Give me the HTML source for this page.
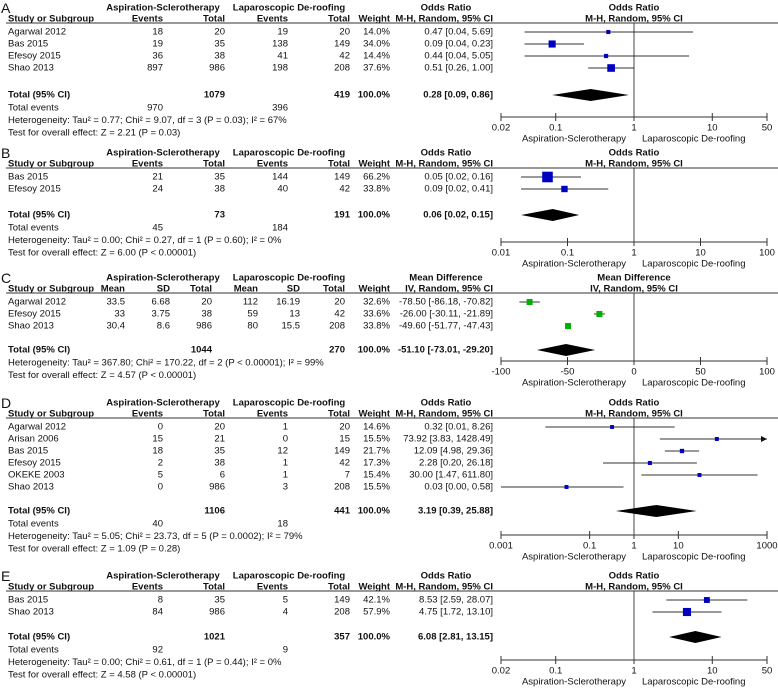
<!DOCTYPE html>
<html><head><meta charset="utf-8"><style>
body{margin:0;background:#fff}
svg{display:block;font-family:"Liberation Sans",sans-serif;font-size:9.5px}
</style></head><body>
<svg id="fig" width="778" height="688" xmlns="http://www.w3.org/2000/svg"></svg>
<script>
// ---- Panel A data ----
const aStudies=["Agarwal 2012","Bas 2015","Efesoy 2015","Shao 2013"];
const aE1=["18","19","36","897"],aT1=["20","35","38","986"],aE2=["19","138","41","198"],aT2=["20","149","42","208"];
const aW=[14.0,34.0,14.4,37.6];
const aEst=[0.47,0.09,0.44,0.51],aLo=[0.04,0.04,0.04,0.26],aHi=[5.69,0.23,5.05,1.00];
const aTot=[0.28,0.09,0.86];
const aTicks=[0.02,0.1,1,10,50],aTickLabels=["0.02","0.1","1","10","50"];
// ---- Panel B data ----
const bStudies=["Bas 2015","Efesoy 2015"];
const bE1=["21","24"],bT1=["35","38"],bE2=["144","40"],bT2=["149","42"];
const bW=[66.2,33.8];
const bEst=[0.05,0.09],bLo=[0.02,0.02],bHi=[0.16,0.41];
const bTot=[0.06,0.02,0.15];
const bTicks=[0.01,0.1,1,10,100],bTickLabels=["0.01","0.1","1","10","100"];
// ---- Panel C data ----
const cStudies=["Agarwal 2012","Efesoy 2015","Shao 2013"];
const cM1=["33.5","33","30.4"],cS1=["6.68","3.75","8.6"],cT1=["20","38","986"];
const cM2=["112","59","80"],cS2=["16.19","13","15.5"],cT2=["20","42","208"];
const cW=[32.6,33.6,33.8];
const cEst=[-78.50,-26.00,-49.60],cLo=[-86.18,-30.11,-51.77],cHi=[-70.82,-21.89,-47.43];
const cTot=[-51.10,-73.01,-29.20];
const cTicks=[-100,-50,0,50,100],cTickLabels=["-100","-50","0","50","100"];
// ---- Panel D data ----
const dStudies=["Agarwal 2012","Arisan 2006","Bas 2015","Efesoy 2015","OKEKE 2003","Shao 2013"];
const dE1=["0","15","18","2","5","0"],dT1=["20","21","35","38","6","986"],dE2=["1","0","12","1","1","3"],dT2=["20","15","149","42","7","208"];
const dW=[14.6,15.5,21.7,17.3,15.4,15.5];
const dEst=[0.32,73.92,12.09,2.28,30.00,0.03],dLo=[0.01,3.83,4.98,0.20,1.47,0.00],dHi=[8.26,1428.49,29.36,26.18,611.80,0.58];
const dTot=[3.19,0.39,25.88];
const dTicks=[0.001,0.1,1,10,1000],dTickLabels=["0.001","0.1","1","10","1000"];
// ---- Panel E data ----
const eStudies=["Bas 2015","Shao 2013"];
const eE1=["8","84"],eT1=["35","986"],eE2=["5","4"],eT2=["149","208"];
const eW=[42.1,57.9];
const eEst=[8.53,4.75],eLo=[2.59,1.72],eHi=[28.07,13.10];
const eTot=[6.08,2.81,13.15];
const eTicks=[0.02,0.1,1,10,50],eTickLabels=["0.02","0.1","1","10","50"];

const NS="http://www.w3.org/2000/svg";
const svg=document.getElementById('fig');
function mk(tag,attrs,parent){const e=document.createElementNS(NS,tag);for(const k in attrs)e.setAttribute(k,attrs[k]);(parent||svg).appendChild(e);return e;}
function txt(s,x,y,anchor,bold,name,g){const t=mk('text',{x:x,y:y,'text-anchor':anchor||'start','dominant-baseline':'central','font-weight':bold?'bold':'normal',fill:'#111'},g);t.textContent=s;


return t;}
const fmt=v=>v.toFixed(2);
const CX=634,HW=133;
function logScale(maxV){return v=>CX+Math.log10(Math.max(v,1e-9))/Math.log10(maxV)*HW;}
function linScale(maxV){return v=>CX+v/maxV*HW;}

function panel(p){
  const g=mk('g',{});
  
  
  const T=p.top;
  const L=mk('text',{x:1,y:T+8,'font-size':14,'dominant-baseline':'central',fill:'#111'},g);L.textContent=p.letter;
  
  
  txt('Aspiration-Sclerotherapy',163,T+8,'middle',true,'group1-header',g);
  txt('Laparoscopic De-roofing',289,T+8,'middle',true,'group2-header',g);
  txt(p.effName,446,T+8,'middle',true,'effect-header',g);
  txt(p.effName,CX,T+8,'middle',true,'plot-header',g);
  txt('Study or Subgroup',8,T+19,'start',true,'study-col-header',g);
  p.cols.forEach(c=>txt(c[0],c[1],T+19,'end',true,'col-header',g));
  txt('Weight',390,T+19,'end',true,'weight-header',g);
  txt(p.method,493,T+19,'end',true,'method-header',g);
  txt(p.method,CX,T+19,'middle',true,'plot-method-header',g);
  const ln=mk('line',{x1:6,x2:778,y1:T+23,y2:T+23,stroke:'#333','stroke-width':1},g);
  
  
  const sx=p.scale;
  const ax=mk('line',{x1:sx(p.ticks[0]),x2:sx(p.ticks[p.ticks.length-1]),y1:p.axisY,y2:p.axisY,stroke:'#333'},g);
  
  
  p.ticks.forEach((t,i)=>{const tk=mk('line',{x1:sx(t),x2:sx(t),y1:p.axisY-4,y2:p.axisY+4,stroke:'#333'},g);
    
    
    txt(p.tickLabels[i],sx(t),p.axisY+11,'middle',false,'x-tick-label',g);});
  txt('Aspiration-Sclerotherapy',CX-8,p.axisY+22,'end',false,'favours-left',g);
  txt('Laparoscopic De-roofing',CX+8,p.axisY+22,'start',false,'favours-right',g);
  const nl=mk('line',{x1:sx(p.nullV),x2:sx(p.nullV),y1:T+23,y2:p.axisY,stroke:'#444'},g);
  
  
  const xmin=sx(p.ticks[0]),xmax=sx(p.ticks[p.ticks.length-1]);
  p.studies.forEach((s,i)=>{
    const y=T+32+12*i;
    txt(s,8,y,'start',false,'study-name',g);
    p.vals.forEach((arr,j)=>txt(arr[i],p.cols[j][1],y,'end',false,'cell-value',g));
    txt(p.w[i].toFixed(1)+'%',390,y,'end',false,'weight-value',g);
    txt(fmt(p.est[i])+' ['+fmt(p.lo[i])+', '+fmt(p.hi[i])+']',493,y,'end',false,'ci-value',g);
    let x1=Math.max(sx(p.lo[i]),xmin),x2=sx(p.hi[i]);const over=x2>xmax;if(over)x2=xmax;
    const ci=mk('line',{x1:x1,x2:x2,y1:y,y2:y,stroke:'#333'},g);
    
    
    if(over){const ar=mk('path',{d:`M${xmax} ${y} l-6 -3 v6z`,fill:'#111'},g);
      
      }
    const sz=p.sq(p.w[i]);
    const r=mk('rect',{x:sx(p.est[i])-sz/2,y:y-sz/2,width:sz,height:sz,fill:p.color},g);
    
    
  });
  const ty=p.totalY;
  txt('Total (95% CI)',8,ty,'start',true,'total-label',g);
  txt(p.tot1,p.totCol1,ty,'end',true,'total-n1',g);
  txt(p.tot2,p.totCol2,ty,'end',true,'total-n2',g);
  txt('100.0%',390,ty,'end',true,'total-weight',g);
  txt(fmt(p.tot[0])+' ['+fmt(p.tot[1])+', '+fmt(p.tot[2])+']',493,ty,'end',true,'total-ci',g);
  const d=mk('path',{d:`M${sx(p.tot[1])} ${ty} L${sx(p.tot[0])} ${ty-6} L${sx(p.tot[2])} ${ty} L${sx(p.tot[0])} ${ty+6}Z`,fill:'#000'},g);
  
  
  let yy=ty+13;
  if(p.events){txt('Total events',8,yy,'start',false,'total-events-label',g);
    txt(p.events[0],163,yy,'end',false,'total-events-1',g);txt(p.events[1],288,yy,'end',false,'total-events-2',g);yy+=12.5;}
  txt(p.het,8,yy,'start',false,'heterogeneity',g);
  txt(p.test,8,yy+12.5,'start',false,'overall-effect-test',g);
}
const orCols=[['Events',163],['Total',225],['Events',288],['Total',350]];
panel({letter:'A',top:0,effName:'Odds Ratio',method:'M-H, Random, 95% CI',cols:orCols,
  studies:aStudies,vals:[aE1,aT1,aE2,aT2],w:aW,est:aEst,lo:aLo,hi:aHi,tot:aTot,
  scale:logScale(50),ticks:aTicks,tickLabels:aTickLabels,nullV:1,axisY:117,totalY:95,
  sq:w=>2+w*0.15,color:'#0000c0',tot1:'1079',tot2:'419',totCol1:225,totCol2:350,
  events:['970','396'],het:'Heterogeneity: Tau² = 0.77; Chi² = 9.07, df = 3 (P = 0.03); I² = 67%',test:'Test for overall effect: Z = 2.21 (P = 0.03)'});
panel({letter:'B',top:145,effName:'Odds Ratio',method:'M-H, Random, 95% CI',cols:orCols,
  studies:bStudies,vals:[bE1,bT1,bE2,bT2],w:bW,est:bEst,lo:bLo,hi:bHi,tot:bTot,
  scale:logScale(100),ticks:bTicks,tickLabels:bTickLabels,nullV:1,axisY:242,totalY:215,
  sq:w=>2+w*0.13,color:'#0000c0',tot1:'73',tot2:'191',totCol1:225,totCol2:350,
  events:['45','184'],het:'Heterogeneity: Tau² = 0.00; Chi² = 0.27, df = 1 (P = 0.60); I² = 0%',test:'Test for overall effect: Z = 6.00 (P < 0.00001)'});
panel({letter:'C',top:270,effName:'Mean Difference',method:'IV, Random, 95% CI',
  cols:[['Mean',125],['SD',170],['Total',212],['Mean',258],['SD',300],['Total',345]],
  studies:cStudies,vals:[cM1,cS1,cT1,cM2,cS2,cT2],w:cW,est:cEst,lo:cLo,hi:cHi,tot:cTot,
  scale:linScale(100),ticks:cTicks,tickLabels:cTickLabels,nullV:0,axisY:361,totalY:350,
  sq:w=>6,color:'#00b000',tot1:'1044',tot2:'270',totCol1:212,totCol2:345,
  events:null,het:'Heterogeneity: Tau² = 367.80; Chi² = 170.22, df = 2 (P < 0.00001); I² = 99%',test:'Test for overall effect: Z = 4.57 (P < 0.00001)'});
panel({letter:'D',top:395,effName:'Odds Ratio',method:'M-H, Random, 95% CI',cols:orCols,
  studies:dStudies,vals:[dE1,dT1,dE2,dT2],w:dW,est:dEst,lo:dLo,hi:dHi,tot:dTot,
  scale:logScale(1000),ticks:dTicks,tickLabels:dTickLabels,nullV:1,axisY:535,totalY:511,
  sq:w=>3+w*0.06,color:'#0000c0',tot1:'1106',tot2:'441',totCol1:225,totCol2:350,
  events:['40','18'],het:'Heterogeneity: Tau² = 5.05; Chi² = 23.73, df = 5 (P = 0.0002); I² = 79%',test:'Test for overall effect: Z = 1.09 (P = 0.28)'});
panel({letter:'E',top:568,effName:'Odds Ratio',method:'M-H, Random, 95% CI',cols:orCols,
  studies:eStudies,vals:[eE1,eT1,eE2,eT2],w:eW,est:eEst,lo:eLo,hi:eHi,tot:eTot,
  scale:logScale(50),ticks:eTicks,tickLabels:eTickLabels,nullV:1,axisY:660,totalY:637,
  sq:w=>w*0.14,color:'#0000c0',tot1:'1021',tot2:'357',totCol1:225,totCol2:350,
  events:['92','9'],het:'Heterogeneity: Tau² = 0.00; Chi² = 0.61, df = 1 (P = 0.44); I² = 0%',test:'Test for overall effect: Z = 4.58 (P < 0.00001)'});
</script>
</body></html>
